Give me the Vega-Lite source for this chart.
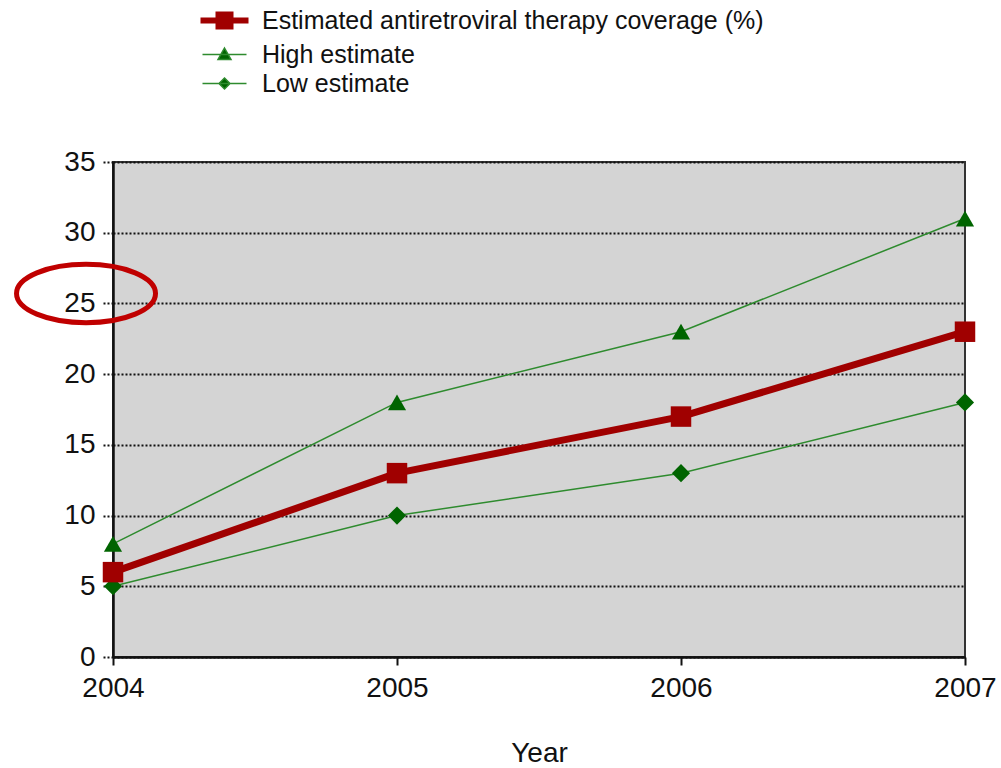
{
  "$schema": "https://vega.github.io/schema/vega-lite/v6.json",
  "width": 852,
  "height": 495,
  "autosize": {"type": "none"},
  "padding": {"left": 113, "top": 162, "right": 36, "bottom": 111},
  "background": "white",
  "config": {
    "font": "Liberation Sans",
    "view": {"fill": "#d4d4d4", "stroke": "#333333", "strokeWidth": 2},
    "axis": {"labelFont": "Liberation Sans", "titleFont": "Liberation Sans", "labelColor": "#111111", "titleColor": "#111111"}
  },
  "datasets": {
    "series": [
      {"year": 2004, "series": "Estimated antiretroviral therapy coverage (%)", "value": 6},
      {"year": 2005, "series": "Estimated antiretroviral therapy coverage (%)", "value": 13},
      {"year": 2006, "series": "Estimated antiretroviral therapy coverage (%)", "value": 17},
      {"year": 2007, "series": "Estimated antiretroviral therapy coverage (%)", "value": 23},
      {"year": 2004, "series": "High estimate", "value": 8},
      {"year": 2005, "series": "High estimate", "value": 18},
      {"year": 2006, "series": "High estimate", "value": 23},
      {"year": 2007, "series": "High estimate", "value": 31},
      {"year": 2004, "series": "Low estimate", "value": 5},
      {"year": 2005, "series": "Low estimate", "value": 10},
      {"year": 2006, "series": "Low estimate", "value": 13},
      {"year": 2007, "series": "Low estimate", "value": 18}
    ],
    "highlight": [
      {"year": 2003.905, "value": 25.7}
    ]
  },
  "data": {"name": "series"},
  "encoding": {
    "x": {
      "field": "year", "type": "quantitative",
      "scale": {"domain": [2004, 2007], "nice": false, "zero": false},
      "axis": {
        "title": "Year", "values": [2004, 2005, 2006, 2007], "format": "d",
        "labelFontSize": 28, "labelFlush": false, "labelOverlap": false, "labelPadding": 9,
        "tickSize": 8, "tickColor": "#111111", "tickWidth": 2,
        "domainColor": "#111111", "domainWidth": 2.5, "grid": false,
        "titleFontSize": 28, "titleFontWeight": "normal", "titlePadding": 37
      }
    },
    "y": {
      "field": "value", "type": "quantitative",
      "scale": {"domain": [0, 35], "nice": false},
      "axis": {
        "title": null, "values": [0, 5, 10, 15, 20, 25, 30, 35],
        "labelFontSize": 28, "labelPadding": 8,
        "tickSize": 10, "tickColor": "#111111", "tickDash": [2, 2], "tickWidth": 2,
        "domainColor": "#111111", "domainWidth": 2.5,
        "grid": true, "gridColor": "#111111", "gridDash": [2, 2], "gridWidth": 2
      }
    }
  },
  "layer": [
    {
      "transform": [{"filter": "datum.series !== 'Estimated antiretroviral therapy coverage (%)'"}],
      "mark": {"type": "line", "strokeWidth": 1.5},
      "encoding": {
        "detail": {"field": "series", "type": "nominal"},
        "stroke": {
          "field": "series", "type": "nominal", "sort": null,
          "scale": {
            "domain": ["Estimated antiretroviral therapy coverage (%)", "High estimate", "Low estimate"],
            "range": ["#a00000", "#2e8b2e", "#2e8b2e"]
          },
          "legend": {
            "title": null, "orient": "none", "legendX": 99, "legendY": -154,
            "padding": 0, "symbolSize": 400, "symbolOffset": 0, "labelOffset": 25,
            "labelFontSize": 25, "labelColor": "#111111", "labelLimit": 700, "rowPadding": 3,
            "encode": {
              "symbols": {
                "update": {
                  "shape": {"signal": "datum.value === 'High estimate' ? 'M-2.2,0L2.2,0M0,-0.65L0.65,0.5L-0.65,0.5Z' : datum.value === 'Low estimate' ? 'M-2.2,0L2.2,0M0,-0.55L0.55,0L0,0.55L-0.55,0Z' : 'M-2.4,0L2.4,0M-0.6,-0.6L0.6,-0.6L0.6,0.6L-0.6,0.6Z'"},
                  "fill": {"signal": "datum.value === 'Estimated antiretroviral therapy coverage (%)' ? '#a00000' : '#006400'"},
                  "fillOpacity": {"value": 1},
                  "strokeWidth": {"signal": "datum.value === 'Estimated antiretroviral therapy coverage (%)' ? 6 : 1.5"}
                }
              }
            }
          }
        }
      }
    },
    {
      "transform": [{"filter": "datum.series === 'Estimated antiretroviral therapy coverage (%)'"}],
      "mark": {"type": "line", "strokeWidth": 7, "strokeJoin": "round"},
      "encoding": {
        "stroke": {"field": "series", "type": "nominal", "sort": null}
      }
    },
    {
      "transform": [{"filter": "datum.series === 'High estimate'"}],
      "mark": {"type": "point", "filled": true, "opacity": 1, "shape": "triangle-up", "size": 330, "fill": "#006400"}
    },
    {
      "transform": [{"filter": "datum.series === 'Low estimate'"}],
      "mark": {"type": "point", "filled": true, "opacity": 1, "shape": "diamond", "size": 330, "fill": "#006400"}
    },
    {
      "transform": [{"filter": "datum.series === 'Estimated antiretroviral therapy coverage (%)'"}],
      "mark": {"type": "point", "filled": true, "opacity": 1, "shape": "square", "size": 420, "fill": "#a00000"}
    },
    {
      "data": {"name": "highlight"},
      "mark": {
        "type": "point", "filled": false, "clip": false,
        "shape": "M-1,0A1,0.42,0,1,0,1,0A1,0.42,0,1,0,-1,0Z",
        "size": 19321, "stroke": "#c00000", "strokeWidth": 5, "opacity": 1
      },
      "encoding": {}
    }
  ]
}
